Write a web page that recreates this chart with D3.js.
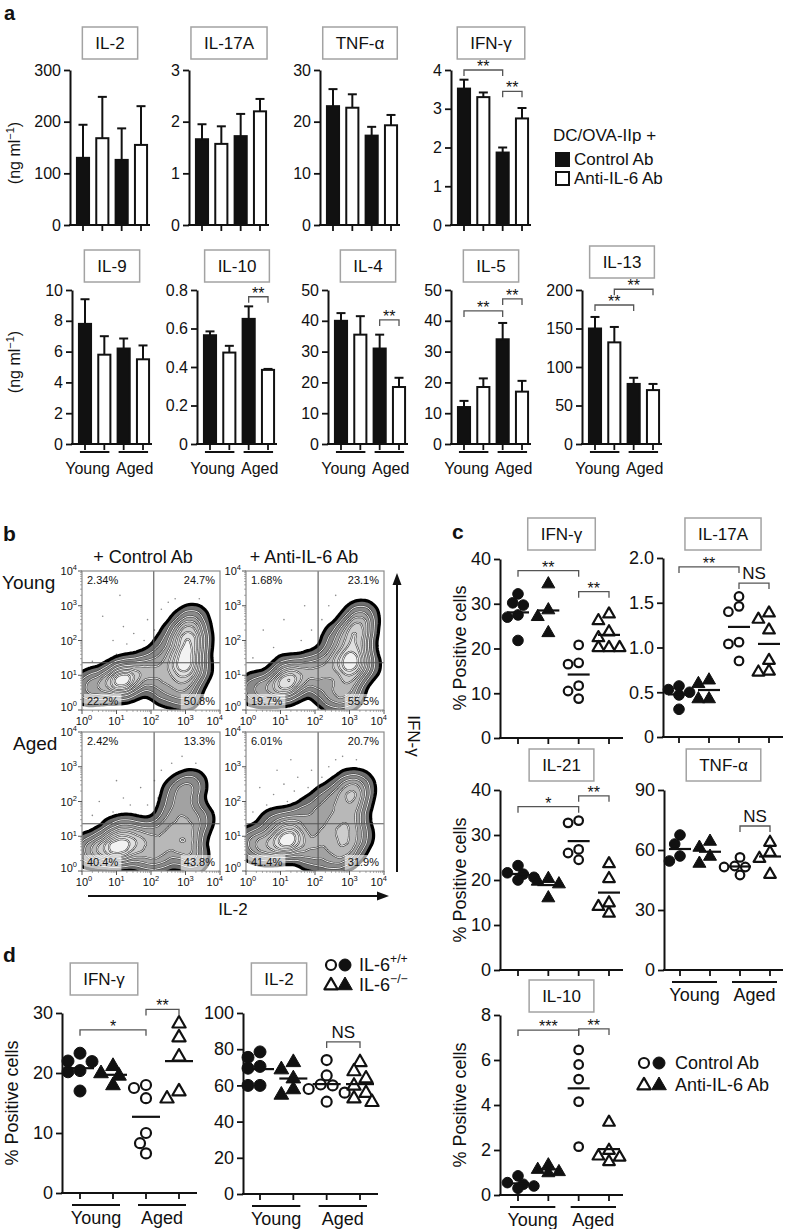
<!DOCTYPE html>
<html>
<head>
<meta charset="utf-8">
<script src="https://cdn.jsdelivr.net/npm/d3@7/dist/d3.min.js"></script>
<style>
html,body{margin:0;padding:0;background:#fff;}
svg text{font-family:"Liberation Sans",Arial,Helvetica,sans-serif;fill:#111;}
</style>
</head>
<body>
<svg id="fig" width="788" height="1229" xmlns="http://www.w3.org/2000/svg"></svg>
<script>
// ======================= DATA =======================
const ageGroups = ["Young", "Aged"];
const treatments = ["Control Ab", "Anti-IL-6 Ab"];
const legendTitleA = "DC/OVA-IIp +";

// ---- Panel a: secreted cytokines (ng ml-1); order Young+Ctrl, Young+Anti, Aged+Ctrl, Aged+Anti
const aCytokines = ["IL-2", "IL-17A", "TNF-α", "IFN-γ", "IL-9", "IL-10", "IL-4", "IL-5", "IL-13"];
const aIL2 = [130, 168, 126, 155];        const aIL2Err = [194, 248, 187, 230];
const aIL17A = [1.66, 1.57, 1.72, 2.2];   const aIL17AErr = [1.95, 1.91, 2.15, 2.44];
const aTNFa = [23, 22.7, 17.3, 19.3];     const aTNFaErr = [26.3, 25.3, 19.0, 21.3];
const aIFNg = [3.52, 3.3, 1.87, 2.75];    const aIFNgErr = [3.75, 3.42, 2.0, 3.02];
const aIL9 = [7.8, 5.8, 6.2, 5.5];        const aIL9Err = [9.4, 7.0, 6.85, 6.4];
const aIL10 = [0.565, 0.475, 0.65, 0.385]; const aIL10Err = [0.585, 0.51, 0.715, 0.39];
const aIL4 = [40, 35.5, 31, 18.5];        const aIL4Err = [42.5, 41.5, 35.5, 21.5];
const aIL5 = [12, 18.5, 34, 17];          const aIL5Err = [14, 21.3, 39.3, 20.5];
const aIL13 = [150, 132, 78, 70];         const aIL13Err = [165, 152, 86, 78];

const aTicksIL2 = [0, 100, 200, 300];
const aTicksIL17A = [0, 1, 2, 3];
const aTicksTNFa = [0, 10, 20, 30];
const aTicksIFNg = [0, 1, 2, 3, 4];
const aTicksIL9 = [0, 2, 4, 6, 8, 10];
const aTicksIL10 = [0, 0.2, 0.4, 0.6, 0.8];
const aTicksIL4 = [0, 10, 20, 30, 40, 50];
const aTicksIL5 = [0, 10, 20, 30, 40, 50];
const aTicksIL13 = [0, 50, 100, 150, 200];

// significance: [fromBar, toBar, level (data units), label]
const aSigIFNg = [[0, 2, 4.0, "**"], [2, 3, 3.45, "**"]];
const aSigIL10 = [[2, 3, 0.765, "**"]];
const aSigIL4 = [[2, 3, 40.3, "**"]];
const aSigIL5 = [[0, 2, 43.2, "**"], [2, 3, 47.1, "**"]];
const aSigIL13 = [[0, 2, 180.5, "**"], [1, 3, 201, "**"]];

// ---- Panel b: flow cytometry (log10 IL-2, log10 IFN-γ, weight)
const bQuadPctYoungCtrl = ["2.34%", "24.7%", "22.2%", "50.8%"];
const bQuadPctYoungAnti = ["1.68%", "23.1%", "19.7%", "55.5%"];
const bQuadPctAgedCtrl = ["2.42%", "13.3%", "40.4%", "43.8%"];
const bQuadPctAgedAnti = ["6.01%", "20.7%", "41.4%", "31.9%"];
const bGateX = [2.08, 2.09, 2.09, 2.09];
const bGateY = [1.36, 1.36, 1.36, 1.36];
const bPopYoungCtrl = [[1.15,0.8,4],[0.8,0.75,2],[1.5,0.9,2],[0.4,0.7,1.5],[0.1,0.6,1],[1.2,1.1,1.5],[1.8,1.2,1.5],
  [2.1,1.0,1.5],[2.3,1.5,1.2],[2.4,0.6,1.5],[2.6,1.1,1.5],[2.6,1.9,1],
  [2.95,0.5,2],[3.0,1.0,2.5],[3.05,1.5,3],[3.1,1.9,3],[3.1,2.3,2],[3.2,2.6,1.2],[3.3,1.2,1.5],[3.35,2.0,1],[2.8,2.2,1],[2.8,1.4,2]];
const bPopYoungAnti = [[1.1,0.7,3.5],[0.6,0.6,1.5],[0.2,0.6,1],[1.5,0.9,2],[1.2,1.1,1.5],[1.9,1.2,1.5],
  [2.2,0.8,1.5],[2.4,1.3,1.5],[2.5,0.4,1.2],[2.6,1.9,1],
  [2.9,0.5,2],[3.0,1.0,2.5],[3.1,1.5,3],[3.2,2.0,2.5],[3.25,2.4,2],[3.35,2.7,1.2],[3.4,1.3,1.5],[2.85,2.2,1],[2.8,1.4,2]];
const bPopAgedCtrl = [[1.05,0.6,4],[0.6,0.6,2.5],[0.2,0.6,1.5],[1.5,0.7,2.5],[1.3,1.1,2],[0.9,1.0,1.5],[1.9,1.0,2],[1.9,0.4,1.5],
  [2.3,0.5,2],[2.5,1.1,2],[2.6,1.6,1.2],[2.9,0.7,2],[3.1,1.1,2],[3.2,0.4,1.5],[3.0,1.7,1.5],[3.0,2.3,1.2],[3.2,2.5,0.8],[2.7,2.2,0.8],[3.4,1.5,1]];
const bPopAgedAnti = [[1.1,0.8,4],[0.6,0.7,2],[0.2,0.8,1.5],[1.5,0.9,2.5],[1.3,1.3,2],[0.8,1.3,1.2],[1.8,1.6,1.2],[1.9,0.5,1.5],
  [2.2,1.0,2],[2.4,1.6,1.5],[2.5,0.4,1.5],[2.7,1.1,2],[2.9,0.6,2],[3.0,1.5,2],[3.1,2.0,2],[3.0,2.4,1.5],[3.2,1.0,1.5],[3.3,2.4,1],[2.6,2.1,1.2],[2.2,2.0,0.6]];
const bEventsYoungCtrl = [[0.6,2.7],[0.9,2.0],[1.0,1.6],[1.2,2.4],[1.3,1.9],[1.5,2.2],[1.6,1.7],[1.8,2.0],[1.9,2.6],[2.1,2.3],[2.3,2.9],[2.5,3.1],[2.7,3.2],[3.4,3.2],[3.6,2.8],[3.7,2.0],[0.3,1.4],[1.1,3.3],[2.0,1.9],[2.4,2.5]];
const bEventsYoungAnti = [[0.5,2.3],[0.8,1.8],[1.1,2.6],[1.3,1.6],[1.6,2.0],[1.9,2.3],[2.0,1.8],[2.2,2.6],[2.4,3.0],[2.6,3.3],[3.0,3.1],[3.5,3.1],[3.6,2.4],[1.7,3.0],[0.2,1.5]];
const bEventsAgedCtrl = [[0.5,2.0],[0.9,1.7],[1.2,2.1],[1.4,1.9],[1.7,2.4],[1.9,1.9],[2.1,2.6],[2.3,2.9],[2.6,3.1],[2.9,3.3],[3.3,3.1],[3.6,2.5],[2.2,2.1],[1.0,2.6],[0.3,1.6]];
const bEventsAgedAnti = [[0.4,2.4],[0.6,1.9],[0.8,2.2],[1.0,1.8],[1.1,2.5],[1.2,2.0],[1.4,2.3],[1.5,2.7],[1.6,2.0],[1.8,2.4],[1.9,2.9],[2.0,2.2],[2.2,2.7],[2.4,3.0],[2.6,3.2],[2.8,3.3],[3.2,3.2],[3.6,2.8],[0.9,2.9],[1.3,3.2],[0.2,1.7],[1.7,1.9]];
const bDecades = [0, 1, 2, 3, 4];

// ---- Panel c: % positive cells; groups Young+Ctrl, Young+Anti, Aged+Ctrl, Aged+Anti
const cIFNg = [[30.2,32.2,29.7,27.5,27.0,21.8],[34.5,28.7,27.2,23.6],[20.8,16.8,16.5,11.7,10.5,8.8],[27.8,26.3,23.8,22.5,20.3,20.3,20.3]];
const cIL17A = [[0.53,0.57,0.50,0.47,0.31],[0.64,0.60,0.43,0.43],[1.57,1.46,1.40,1.06,1.04,0.85],[1.39,1.32,1.20,0.86,0.74,0.73]];
const cIL21 = [[23.2,21.6,21.3,20.6,20.0],[20.4,19.8,19.2,16.1],[33.2,32.7,26.8,26.0,24.5],[23.7,20.4,15.0,14.2,12.7]];
const cTNFa = [[67.5,63,57,54.5],[64.5,61.5,57,53.5],[56.3,52,51.5,51.5,47.5],[64,59,56,48]];
const cIL10 = [[0.85,0.55,0.48,0.40,0.30],[1.35,1.15,1.05,1.0],[6.45,5.8,5.15,4.15,2.15],[3.25,2.0,1.75,1.7,1.5]];
const cTicksIFNg = [0,10,20,30,40];           const cTickLabIFNg = ["0","10","20","30","40"];
const cTicksIL17A = [0,0.5,1,1.5,2];          const cTickLabIL17A = ["0","0.5","1.0","1.5","2.0"];
const cTicksIL21 = [0,10,20,30,40];           const cTickLabIL21 = ["0","10","20","30","40"];
const cTicksTNFa = [0,30,60,90];              const cTickLabTNFa = ["0","30","60","90"];
const cTicksIL10 = [0,2,4,6,8];               const cTickLabIL10 = ["0","2","4","6","8"];
const cSigIFNg = [[0,2,37.4,"**"],[2,3,32.7,"**"]];
const cSigIL17A = [[0,2,1.90,"**"],[2,3,1.72,"NS"]];
const cSigIL21 = [[0,2,36.3,"*"],[2,3,38.7,"**"]];
const cSigTNFa = [[2,3,72,"NS"]];
const cSigIL10 = [[0,2,7.33,"***"],[2,3,7.38,"**"]];

// ---- Panel d: IL-6+/+ vs IL-6-/- ; groups Young+/+, Young-/-, Aged+/+, Aged-/-
const dGenotypes = ["IL-6", "IL-6"];
const dGenotypeSup = ["+/+", "−/−"];
const dIFNg = [[23.3,22.0,21.9,20.4,20.2,17.0],[21.2,20.0,19.6,18.0],[18.0,17.5,15.8,10.0,8.3,6.6],[28.3,26.0,22.8,17.0,15.8]];
const dIL2 = [[78.5,75.5,70.5,69.5,60,60],[73,69,64,58,55],[74,65.5,60.5,60,58,56,51],[73,68,64,60,56,53,51]];
const dTicksIFNg = [0,10,20,30];              const dTickLabIFNg = ["0","10","20","30"];
const dTicksIL2 = [0,20,40,60,80,100];        const dTickLabIL2 = ["0","20","40","60","80","100"];
const dSigIFNg = [[0,2,27.2,"*"],[2,3,30.6,"**"]];
const dSigIL2 = [[2,3,84,"NS"]];

// ======================= DRAWING =======================
const svg = d3.select("#fig");
const INK = "#111";

function label(p, x, y, str, size, anchor, weight) {
  return p.append("text").attr("x", x).attr("y", y).attr("font-size", size)
    .attr("text-anchor", anchor || "start").attr("font-weight", weight || "normal").text(str);
}
function supText(p, x, y, base, exp, size, anchor) {
  const t = p.append("text").attr("x", x).attr("y", y).attr("font-size", size).attr("text-anchor", anchor || "start");
  t.append("tspan").text(base);
  t.append("tspan").attr("dy", -size * 0.42).attr("font-size", size * 0.68).text(exp);
  return t;
}
function titleBox(cx, y, txt, h) {
  const g = svg.append("g");
  const t = g.append("text").attr("x", cx).attr("y", y + h / 2 + 6).attr("font-size", 17)
    .attr("text-anchor", "middle").text(txt);
  const w = t.node().getComputedTextLength() + 26;
  g.insert("rect", "text").attr("x", cx - w / 2).attr("y", y).attr("width", w).attr("height", h)
    .attr("fill", "none").attr("stroke", "#a3a3a3").attr("stroke-width", 1.5);
}
function styleAxis(sel, fs) {
  sel.attr("font-family", null).attr("font-size", null);
  sel.select(".domain").attr("stroke", INK).attr("stroke-width", 2);
  sel.selectAll(".tick line").attr("stroke", INK).attr("stroke-width", 1.8);
  sel.selectAll(".tick text").attr("font-size", fs).attr("fill", INK);
}
function bracket(p, x1, x2, yy, txt, isNS) {
  p.append("path").attr("d", `M${x1},${yy + 6}V${yy}H${x2}V${yy + 6}`)
    .attr("fill", "none").attr("stroke", "#555").attr("stroke-width", 1.3);
  if (isNS) label(p, (x1 + x2) / 2, yy - 4, txt, 17, "middle");
  else label(p, (x1 + x2) / 2, yy + 2, txt, 16, "middle");
}
function groupUnderline(p, xa, xb, yLine, yText, size, split) {
  [[xa[0], xa[1], ageGroups[0]], [xb[0], xb[1], ageGroups[1]]].forEach(([a, b, s], i) => {
    p.append("line").attr("x1", a).attr("x2", b).attr("y1", yLine).attr("y2", yLine)
      .attr("stroke", INK).attr("stroke-width", 2);
    if (split) {
      const gap = (xa[1] + xb[0]) / 2;
      if (i === 0) label(p, gap - 4, yText, s, size, "end");
      else label(p, gap + 2, yText, s, size, "start");
    } else label(p, (a + b) / 2, yText, s, size, "middle");
  });
}

// ---------- panel labels ----------
label(svg, 4, 20, "a", 20, "start", "bold");
label(svg, 3, 541, "b", 21, "start", "bold");
label(svg, 452, 539, "c", 21, "start", "bold");
label(svg, 3, 962, "d", 21, "start", "bold");

// ---------- Panel a ----------
const aMeans = [aIL2, aIL17A, aTNFa, aIFNg, aIL9, aIL10, aIL4, aIL5, aIL13];
const aErrs = [aIL2Err, aIL17AErr, aTNFaErr, aIFNgErr, aIL9Err, aIL10Err, aIL4Err, aIL5Err, aIL13Err];
const aTicks = [aTicksIL2, aTicksIL17A, aTicksTNFa, aTicksIFNg, aTicksIL9, aTicksIL10, aTicksIL4, aTicksIL5, aTicksIL13];
const aSigs = [[], [], [], aSigIFNg, [], aSigIL10, aSigIL4, aSigIL5, aSigIL13];
const aLayout = [
  {axisX: 70, yTop: 70, y0: 225, boxY: 27, groups: false},
  {axisX: 189, yTop: 70, y0: 225, boxY: 27, groups: false},
  {axisX: 320, yTop: 70, y0: 225, boxY: 27, groups: false},
  {axisX: 451, yTop: 70, y0: 225, boxY: 27, groups: false},
  {axisX: 72, yTop: 290, y0: 444, boxY: 250, groups: true},
  {axisX: 197, yTop: 290, y0: 444, boxY: 250, groups: true},
  {axisX: 328, yTop: 290, y0: 444, boxY: 250, groups: true},
  {axisX: 451, yTop: 290, y0: 444, boxY: 250, groups: true},
  {axisX: 582, yTop: 290, y0: 444, boxY: 246, groups: true}
];
aCytokines.forEach((name, k) => {
  const L = aLayout[k], means = aMeans[k], errs = aErrs[k], ticks = aTicks[k];
  const g = svg.append("g");
  const y = d3.scaleLinear().domain([0, ticks[ticks.length - 1]]).range([L.y0, L.yTop]);
  const x = d3.scaleBand().domain(d3.range(means.length)).range([L.axisX + 4, L.axisX + 80])
    .paddingInner(0.27).paddingOuter(0.1);
  const cx = i => x(i) + x.bandwidth() / 2;
  titleBox(L.axisX + 40, L.boxY, name, 32);
  const ax = g.append("g").attr("transform", `translate(${L.axisX},0)`)
    .call(d3.axisLeft(y).tickValues(ticks).tickFormat(d => String(d)).tickSize(6).tickSizeOuter(0).tickPadding(3));
  styleAxis(ax, 16);
  g.selectAll("line.err").data(errs).join("line").attr("class", "err")
    .attr("x1", (d, i) => cx(i)).attr("x2", (d, i) => cx(i)).attr("y1", (d, i) => y(means[i])).attr("y2", d => y(d))
    .attr("stroke", INK).attr("stroke-width", 2);
  g.selectAll("line.cap").data(errs).join("line").attr("class", "cap")
    .attr("x1", (d, i) => cx(i) - 4.5).attr("x2", (d, i) => cx(i) + 4.5).attr("y1", d => y(d)).attr("y2", d => y(d))
    .attr("stroke", INK).attr("stroke-width", 2);
  g.selectAll("rect.bar").data(means).join("rect").attr("class", "bar")
    .attr("x", (d, i) => x(i) + 1).attr("y", d => y(d)).attr("width", x.bandwidth() - 2).attr("height", d => L.y0 - y(d))
    .attr("fill", (d, i) => i % 2 === 0 ? INK : "#fff").attr("stroke", INK).attr("stroke-width", 2);
  g.append("line").attr("x1", L.axisX - 1).attr("x2", L.axisX + 80).attr("y1", L.y0).attr("y2", L.y0)
    .attr("stroke", INK).attr("stroke-width", 2);
  g.selectAll("line.xt").data(means).join("line").attr("class", "xt")
    .attr("x1", (d, i) => cx(i)).attr("x2", (d, i) => cx(i)).attr("y1", L.y0).attr("y2", L.y0 + 6)
    .attr("stroke", INK).attr("stroke-width", 1.8);
  if (L.groups) {
    groupUnderline(g, [x(0) + 2, x(1) + x.bandwidth() - 2], [x(2) + 2, x(3) + x.bandwidth() - 2], L.y0 + 8, L.y0 + 30, 16, true);
  }
  aSigs[k].forEach(([a, b, lev, txt]) => bracket(g, cx(a), cx(b), y(lev), txt, false));
});
[153, 362].forEach(cy => {
  const t = svg.append("text").attr("transform", `translate(20,${cy}) rotate(-90)`).attr("font-size", 16).attr("text-anchor", "middle");
  t.append("tspan").text("(ng ml");
  t.append("tspan").attr("dy", -6).attr("font-size", 11).text("−1");
  t.append("tspan").attr("dy", 6).text(")");
});
label(svg, 553, 141, legendTitleA, 17);
[[INK, 153, treatments[0]], ["#fff", 172, treatments[1]]].forEach(([f, yy, s]) => {
  svg.append("rect").attr("x", 556).attr("y", yy).attr("width", 13).attr("height", 13)
    .attr("fill", f).attr("stroke", INK).attr("stroke-width", 2);
  label(svg, 574, yy + 12, s, 17);
});

// ---------- Panel b ----------
let clipN = 0;
function flowPlot(ox, oy, pop, events, pct, gx, gy) {
  const W = 138, H = 139;
  const xs = d3.scaleLinear().domain([0, 4]).range([0, W]);
  const ys = d3.scaleLinear().domain([0, 4]).range([H, 0]);
  const g = svg.append("g").attr("transform", `translate(${ox},${oy})`);
  const id = "fclip" + (clipN++);
  g.append("clipPath").attr("id", id).append("rect").attr("width", W).attr("height", H);
  const inner = g.append("g").attr("clip-path", `url(#${id})`);
  inner.selectAll("circle").data(events).join("circle")
    .attr("cx", d => xs(d[0])).attr("cy", d => ys(d[1])).attr("r", 0.8).attr("fill", "#8a8a8a");
  const dens = d3.contourDensity().x(d => xs(d[0])).y(d => ys(d[1])).weight(d => d[2])
    .size([W, H]).cellSize(2).bandwidth(8.5);
  const fracs = [0.05, 0.15, 0.28, 0.42, 0.57, 0.72, 0.86];
  const fills = ["#6e6e6e", "#8a8a8a", "#a2a2a2", "#b8b8b8", "#cdcdcd", "#e0e0e0", "#f2f2f2"];
  let levels;
  if (typeof dens.contours === "function") {
    const cf = dens.contours(pop);
    levels = fracs.map(f => cf(f * cf.max));
  } else {
    const tmp = dens.thresholds(60)(pop);
    const mx = d3.max(tmp, c => c.value);
    levels = dens.thresholds(fracs.map(f => f * mx))(pop);
  }
  const path = d3.geoPath();
  levels.forEach((c, i) => {
    const d = path(c);
    if (!d) return;
    inner.append("path").attr("d", d).attr("fill", fills[i])
      .attr("stroke", i === 0 ? "#000" : "#3a3a3a").attr("stroke-width", i === 0 ? 3.2 : 2).attr("stroke-linejoin", "round");
    if (i > 0) inner.append("path").attr("d", d).attr("fill", "none").attr("stroke", "#fff").attr("stroke-width", 0.9);
  });
  g.append("line").attr("x1", xs(gx)).attr("x2", xs(gx)).attr("y1", 0).attr("y2", H).attr("stroke", "#555").attr("stroke-width", 1.1);
  g.append("line").attr("x1", 0).attr("x2", W).attr("y1", ys(gy)).attr("y2", ys(gy)).attr("stroke", "#555").attr("stroke-width", 1.1);
  g.append("rect").attr("width", W).attr("height", H).attr("fill", "none").attr("stroke", "#8c8c8c").attr("stroke-width", 1.2);
  bDecades.forEach(k => {
    g.append("line").attr("x1", -4).attr("x2", 0).attr("y1", ys(k)).attr("y2", ys(k)).attr("stroke", "#555");
    g.append("line").attr("x1", xs(k)).attr("x2", xs(k)).attr("y1", H).attr("y2", H + 4).attr("stroke", "#555");
    if (k < 4) d3.range(2, 10).forEach(m => {
      const v = k + Math.log10(m);
      g.append("line").attr("x1", -2).attr("x2", 0).attr("y1", ys(v)).attr("y2", ys(v)).attr("stroke", "#777").attr("stroke-width", 0.6);
      g.append("line").attr("x1", xs(v)).attr("x2", xs(v)).attr("y1", H).attr("y2", H + 2).attr("stroke", "#777").attr("stroke-width", 0.6);
    });
    supText(g, -5, k === 0 ? ys(k) + 1 : ys(k) + 4, "10", String(k), 11, "end").attr("fill", "#222");
    if (k === 4) supText(g, xs(k) + 3, H + 15, "10", String(k), 11, "end").attr("fill", "#222");
    else supText(g, xs(k) + (k === 0 ? 2 : 0), H + 15, "10", String(k), 11, "middle").attr("fill", "#222");
  });
  const pl = [[5, 13, "start", false], [W - 5, 13, "end", false], [5, H - 5, "start", true], [W - 5, H - 5, "end", true]];
  pl.forEach(([px, py, anc, bg], i) => {
    const t = label(g, px, py, pct[i], 11, anc).attr("fill", "#333");
    if (bg) {
      const bb = t.node().getBBox();
      g.insert("rect", "text").attr("x", bb.x - 3).attr("y", bb.y - 1).attr("width", bb.width + 6).attr("height", H - bb.y + 0.5)
        .attr("fill", "#fff").attr("opacity", 0.6);
    }
  });
}
flowPlot(82, 571, bPopYoungCtrl, bEventsYoungCtrl, bQuadPctYoungCtrl, bGateX[0], bGateY[0]);
flowPlot(246, 571, bPopYoungAnti, bEventsYoungAnti, bQuadPctYoungAnti, bGateX[1], bGateY[1]);
flowPlot(82, 732, bPopAgedCtrl, bEventsAgedCtrl, bQuadPctAgedCtrl, bGateX[2], bGateY[2]);
flowPlot(246, 732, bPopAgedAnti, bEventsAgedAnti, bQuadPctAgedAnti, bGateX[3], bGateY[3]);
label(svg, 143, 563, "+ " + treatments[0], 18, "middle");
label(svg, 304, 563, "+ " + treatments[1], 18, "middle");
label(svg, 2, 589, ageGroups[0], 19);
label(svg, 13, 750, ageGroups[1], 19);
svg.append("line").attr("x1", 397).attr("x2", 397).attr("y1", 872).attr("y2", 582).attr("stroke", INK).attr("stroke-width", 2);
svg.append("path").attr("d", "M397,573L392.5,585L401.5,585Z").attr("fill", INK);
svg.append("line").attr("x1", 88).attr("x2", 380).attr("y1", 896).attr("y2", 896).attr("stroke", INK).attr("stroke-width", 2);
svg.append("path").attr("d", "M389,896L377,891.5L377,900.5Z").attr("fill", INK);
svg.append("text").attr("transform", "translate(408,736) rotate(90)").attr("font-size", 17).attr("text-anchor", "middle").text("IFN-γ");
label(svg, 233, 915, "IL-2", 17, "middle");

// ---------- Dot plots (panels c, d) ----------
function dodge(vals, y, cx, r) {
  const placed = [], res = new Array(vals.length);
  const order = vals.map((v, i) => i).sort((a, b) => vals[b] - vals[a]);
  const offs = [0, -1, 1, -2, 2, -3, 3];
  order.forEach(i => {
    const py = y(vals[i]);
    for (const o of offs) {
      const px = cx + o * r * 1.0;
      if (placed.every(p => Math.hypot(p[0] - px, p[1] - py) >= r * 1.75)) { placed.push([px, py]); res[i] = [px, py]; break; }
    }
    if (!res[i]) res[i] = [cx, py];
  });
  return res;
}
function marker(p, x, y, kind, filled, r) {
  const stroke = filled ? 1 : 2.2;
  if (kind === "circle") {
    p.append("circle").attr("cx", x).attr("cy", y).attr("r", filled ? r : r - 1)
      .attr("fill", filled ? INK : "#fff").attr("stroke", INK).attr("stroke-width", stroke);
  } else {
    const s = d3.symbol(d3.symbolTriangle, filled ? r * r * 2.6 : r * r * 2.1)();
    p.append("path").attr("d", s).attr("transform", `translate(${x},${y + 0.5})`)
      .attr("fill", filled ? INK : "#fff").attr("stroke", INK).attr("stroke-width", stroke).attr("stroke-linejoin", "round");
  }
}
function dotChart(name, data, ticks, tickLabels, sig, L) {
  const g = svg.append("g");
  const y = d3.scaleLinear().domain([0, ticks[ticks.length - 1]]).range([L.y0, L.yTop]);
  const x = d3.scalePoint().domain(d3.range(data.length)).range([L.gx0, L.gx1]);
  titleBox(L.boxCx != null ? L.boxCx : (L.axisX + L.xEnd) / 2, L.boxY, name, 32);
  const ax = g.append("g").attr("transform", `translate(${L.axisX},0)`)
    .call(d3.axisLeft(y).tickValues(ticks).tickFormat((d, i) => tickLabels[i]).tickSize(6).tickSizeOuter(0).tickPadding(3));
  styleAxis(ax, 18);
  g.append("line").attr("x1", L.axisX - 1).attr("x2", L.xEnd).attr("y1", L.y0).attr("y2", L.y0).attr("stroke", INK).attr("stroke-width", 2);
  g.selectAll("line.xt").data(data).join("line").attr("class", "xt")
    .attr("x1", (d, i) => x(i)).attr("x2", (d, i) => x(i)).attr("y1", L.y0).attr("y2", L.y0 + 6)
    .attr("stroke", INK).attr("stroke-width", 1.8);
  data.forEach((vals, gi) => {
    const pos = dodge(vals, y, x(gi), L.r);
    const kind = gi % 2 === 0 ? "circle" : "triangle";
    const filled = gi < 2;
    pos.forEach(([px, py]) => marker(g, px, py, kind, filled, L.r));
    const m = d3.mean(vals);
    g.append("line").attr("x1", x(gi) - L.mw / 2).attr("x2", x(gi) + L.mw / 2).attr("y1", y(m)).attr("y2", y(m))
      .attr("stroke", INK).attr("stroke-width", 2.2);
  });
  sig.forEach(([a, b, lev, txt]) => bracket(g, x(a), x(b), y(lev), txt, txt === "NS"));
  if (L.groups) {
    groupUnderline(g, [x(0) - 8, x(1) + 7], [x(2) - 8, x(3) + 7], L.y0 + 12, L.y0 + 31, 18, false);
  }
}
dotChart("IFN-γ", cIFNg, cTicksIFNg, cTickLabIFNg, cSigIFNg, {axisX: 500, xEnd: 623, yTop: 559, y0: 738, gx0: 518, gx1: 609, boxY: 518, r: 5.3, mw: 22, groups: false});
dotChart("IL-17A", cIL17A, cTicksIL17A, cTickLabIL17A, cSigIL17A, {axisX: 663, xEnd: 783, yTop: 558, y0: 737, gx0: 679, gx1: 769, boxY: 518, r: 5.3, mw: 22, groups: false});
dotChart("IL-21", cIL21, cTicksIL21, cTickLabIL21, cSigIL21, {axisX: 500, xEnd: 623, yTop: 790, y0: 970, gx0: 518, gx1: 609, boxY: 749, r: 5.3, mw: 22, groups: false});
dotChart("TNF-α", cTNFa, cTicksTNFa, cTickLabTNFa, cSigTNFa, {axisX: 664, xEnd: 783, yTop: 790, y0: 970, gx0: 680, gx1: 770, boxY: 749, r: 5.3, mw: 22, groups: true});
dotChart("IL-10", cIL10, cTicksIL10, cTickLabIL10, cSigIL10, {axisX: 500, xEnd: 623, yTop: 1015, y0: 1195, gx0: 518, gx1: 609, boxY: 980, r: 5.3, mw: 22, groups: true});
dotChart("IFN-γ", dIFNg, dTicksIFNg, dTickLabIFNg, dSigIFNg, {axisX: 62, xEnd: 197, yTop: 1013, y0: 1193, gx0: 80, gx1: 179, boxY: 963, boxCx: 104, r: 6, mw: 28, groups: true});
dotChart("IL-2", dIL2, dTicksIL2, dTickLabIL2, dSigIL2, {axisX: 243, xEnd: 378, yTop: 1013, y0: 1194, gx0: 260, gx1: 360, boxY: 963, boxCx: 279, r: 6, mw: 28, groups: true});

[[466, 648], [466, 880], [466, 1105], [18, 1103]].forEach(([xx, cy]) => {
  svg.append("text").attr("transform", `translate(${xx},${cy}) rotate(-90)`).attr("font-size", 18)
    .attr("text-anchor", "middle").text("% Positive cells");
});
[["circle", 1063, treatments[0]], ["triangle", 1085, treatments[1]]].forEach(([k, yy, s]) => {
  marker(svg, 644, yy, k, false, 6);
  marker(svg, 659, yy, k, true, 6);
  label(svg, 675, yy + 6, s, 18);
});
[["circle", 965, 0], ["triangle", 985, 1]].forEach(([k, yy, i]) => {
  marker(svg, 331, yy, k, false, 6);
  marker(svg, 345, yy, k, true, 6);
  supText(svg, 359, yy + 6, dGenotypes[i], dGenotypeSup[i], 18, "start");
});
</script>
</body>
</html>
